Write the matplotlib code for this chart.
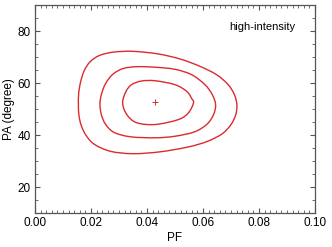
import numpy as np
import matplotlib
matplotlib.use('Agg')
import matplotlib.pyplot as plt
from matplotlib.path import Path
from matplotlib.patches import PathPatch
from matplotlib.ticker import MultipleLocator

# contour levels (PF, PA in degrees), closed loops
pf_outer = [0.0721, 0.0712, 0.0690, 0.0649, 0.0590, 0.0520, 0.0440, 0.0350, 0.0280, 0.0230,
            0.0197, 0.0176, 0.0163, 0.0156, 0.0155, 0.0157, 0.0165, 0.0182, 0.0212, 0.0270,
            0.0350, 0.0446, 0.0548, 0.0615, 0.0668, 0.0700, 0.0717]
pa_outer = [51.8, 55.6, 59.4, 63.2, 66.4, 69.2, 71.2, 72.2, 71.9, 70.6,
            68.2, 64.8, 60.5, 56.0, 51.8, 47.6, 43.8, 40.0, 36.5, 33.8,
            32.9, 33.6, 35.5, 37.6, 40.5, 44.1, 47.9]

pf_mid = [0.0645, 0.0633, 0.0607, 0.0560, 0.0500, 0.0429, 0.0364, 0.0315, 0.0278, 0.0252,
          0.0237, 0.0232, 0.0237, 0.0252, 0.0282, 0.0340, 0.0429, 0.0500, 0.0570, 0.0615,
          0.0638]
pa_mid = [51.8, 55.6, 59.4, 63.2, 65.3, 66.1, 66.3, 65.6, 63.4, 59.8,
          55.6, 51.8, 47.9, 44.2, 41.1, 39.4, 39.0, 39.6, 41.3, 44.3,
          48.0]

pf_inner = [0.0566, 0.0560, 0.0542, 0.0500, 0.0429, 0.0380, 0.0345, 0.0325, 0.0313, 0.0328,
            0.0363, 0.0429, 0.0512, 0.0548]
pa_inner = [52.4, 54.0, 56.8, 59.4, 60.9, 60.8, 59.4, 56.8, 52.4, 47.9,
            44.8, 44.1, 46.0, 48.6]

best_pf = 0.0429
best_pa = 52.7

label = 'high-intensity'


def closed_curve(xs, ys):
    # smooth closed path through the points (catmull-rom as cubic beziers)
    p = np.column_stack([xs, ys])
    n = len(p)
    verts = [p[0]]
    codes = [Path.MOVETO]
    for i in range(n):
        p0, p1, p2, p3 = p[i - 1], p[i], p[(i + 1) % n], p[(i + 2) % n]
        verts += [p1 + (p2 - p0) / 6, p2 - (p3 - p1) / 6, p2]
        codes += [Path.CURVE4] * 3
    return Path(verts, codes)


plt.rcParams['font.family'] = ['Liberation Sans', 'DejaVu Sans']
plt.rcParams['font.size'] = 8.5

fig = plt.figure(figsize=(3.32, 2.47), dpi=100)
ax = fig.add_axes([0.1054, 0.1364, 0.8434, 0.8434])

red = '#dc2a2e'
for xs, ys in [(pf_outer, pa_outer), (pf_mid, pa_mid), (pf_inner, pa_inner)]:
    ax.add_patch(PathPatch(closed_curve(xs, ys), fill=False, edgecolor=red, lw=1.0))
ax.plot([best_pf], [best_pa], '+', color=red, ms=4, mew=0.7)

ax.text(0.693, 0.892, label, transform=ax.transAxes, ha='left', va='center', fontsize=8)

ax.set_xlim(0.0, 0.1)
ax.set_ylim(10, 90)
ax.xaxis.set_major_locator(MultipleLocator(0.02))
ax.xaxis.set_minor_locator(MultipleLocator(0.002))
ax.yaxis.set_major_locator(MultipleLocator(20))
ax.yaxis.set_minor_locator(MultipleLocator(5))
ax.xaxis.set_major_formatter(plt.FormatStrFormatter('%.2f'))

ax.set_xlabel('PF', labelpad=2)
ax.set_ylabel('PA (degree)', labelpad=2)

for s in ax.spines.values():
    s.set_color('#555555')
    s.set_linewidth(0.9)
ax.tick_params(which='both', direction='in', top=True, right=True, color='#555555', pad=3)
ax.tick_params(which='major', length=3.5, width=0.8)
ax.tick_params(which='minor', length=2, width=0.6)

plt.savefig('out.png', dpi=100)
